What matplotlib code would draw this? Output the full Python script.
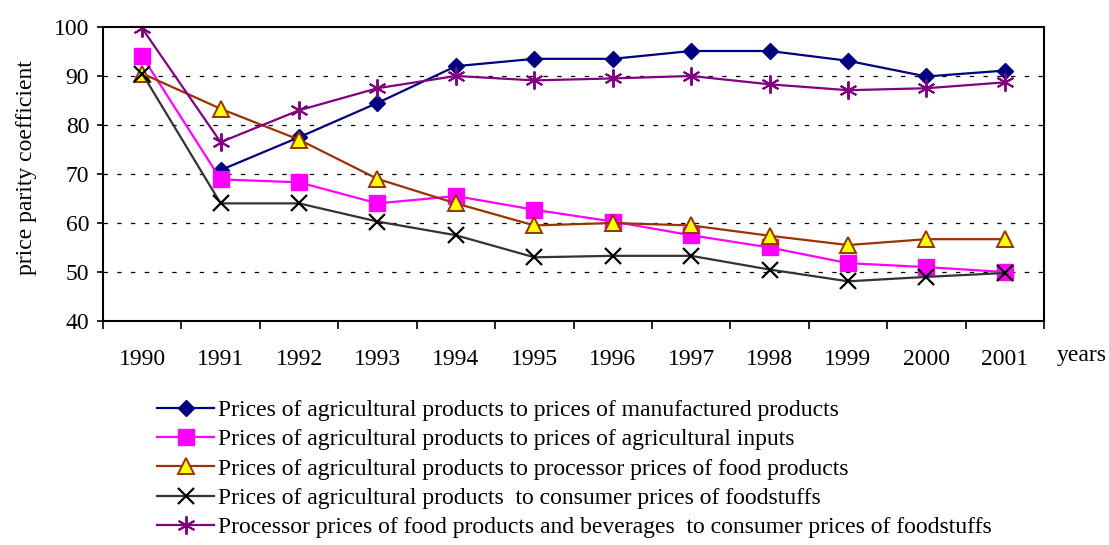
import matplotlib.pyplot as plt
import numpy as np

# Dados
anos = ['1990', '1991', '1992', '1993', '1994', '1995', '1996', '1997', '1998', '1999', '2000', '2001']
manufaturados = [np.nan, 70.8, 77.5, 84.5, 92.0, 93.5, 93.5, 95.1, 95.1, 93.1, 89.9, 91.1]
insumos = [94.0, 68.9, 68.3, 64.0, 65.5, 62.7, 60.3, 57.5, 55.0, 51.8, 51.0, 50.0]
processador = [90.5, 83.3, 77.0, 69.0, 64.0, 59.5, 60.0, 59.5, 57.4, 55.5, 56.7, 56.7]
consumidor = [90.5, 64.0, 64.0, 60.3, 57.5, 53.0, 53.3, 53.3, 50.5, 48.1, 49.0, 49.8]
bebidas = [99.7, 76.5, 83.0, 87.5, 90.0, 89.1, 89.5, 90.0, 88.3, 87.1, 87.5, 88.7]

rotulos = [
    'Prices of agricultural products to prices of manufactured products',
    'Prices of agricultural products to prices of agricultural inputs',
    'Prices of agricultural products to processor prices of food products',
    'Prices of agricultural products  to consumer prices of foodstuffs',
    'Processor prices of food products and beverages  to consumer prices of foodstuffs',
]

plt.rcParams['font.family'] = ['Liberation Serif', 'DejaVu Serif']

fig = plt.figure(figsize=(11.09, 5.45), dpi=100)
ax = fig.add_axes([0.0929, 0.411, 0.8485, 0.5395])

x = np.arange(len(anos))

ax.plot(x, manufaturados, color='#000080', lw=1.6, marker='D', ms=8,
        mfc='#000080', mec='#000080', label=rotulos[0])
ax.plot(x, insumos, color='#FF00FF', lw=1.6, marker='s', ms=11,
        mfc='#FF00FF', mec='#FF00FF', label=rotulos[1])
ax.plot(x, processador, color='#993300', lw=1.6, marker='^', ms=11,
        mfc='#FFFF00', mec='#993300', mew=1.4, label=rotulos[2])
ax.plot(x, consumidor, color='#333333', lw=1.6, marker='x', ms=11,
        mfc='black', mec='black', mew=1.6, label=rotulos[3])
ax.plot(x, bebidas, color='#800080', lw=1.6, marker=(6, 2, 0), ms=13,
        mec='#800080', mew=1.4, label=rotulos[4])

ax.set_xlim(-0.5, len(anos) - 0.5)
ax.set_ylim(40, 100)
ax.set_yticks(np.arange(40, 101, 10))
ax.tick_params(axis='y', labelsize=17, direction='out', length=4, width=1.2, pad=6)

# ticks nas fronteiras das categorias, rótulos no centro
ax.set_xticks(np.arange(-0.5, len(anos), 1.0))
ax.set_xticklabels([])
ax.set_xticks(x, minor=True)
ax.set_xticklabels(anos, minor=True, fontsize=17)
ax.tick_params(axis='x', which='major', direction='out', length=6, width=1.2)
ax.tick_params(axis='x', which='minor', length=0, pad=20)

for v in [50, 60, 70, 80, 90]:
    ax.axhline(v, color='black', lw=0.9, ls=(0, (3.5, 7.5)), zorder=0)

for s in ax.spines.values():
    s.set_linewidth(1.5)

ax.set_ylabel('price parity coefficient', fontsize=17)
ax.yaxis.set_label_coords(-0.07, 0.52)
fig.text(1057 / 1109, 1 - 356 / 545, 'years', fontsize=17, va='center', ha='left')

fig.legend(loc='upper left', bbox_to_anchor=(148 / 1109, 1 - 390 / 545), frameon=False,
           fontsize=17, handlelength=2.4, handletextpad=0.15, labelspacing=0.33,
           borderaxespad=0)

fig.savefig('out.png', dpi=100)
